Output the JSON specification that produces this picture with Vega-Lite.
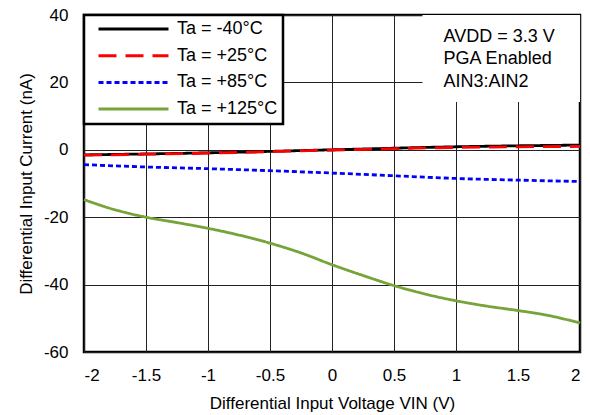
{
  "$schema": "https://vega.github.io/schema/vega-lite/v6.json",
  "width": 496,
  "height": 337,
  "autosize": {"type": "none"},
  "padding": {"left": 84, "top": 15, "right": 10, "bottom": 63},
  "background": "white",
  "config": {
    "font": "Liberation Sans",
    "view": {"stroke": "black", "strokeWidth": 2.5},
    "axis": {
      "grid": true, "gridColor": "#222", "gridWidth": 1, "gridOpacity": 1,
      "domain": false, "ticks": false,
      "labelFont": "Liberation Sans", "labelFontSize": 17, "labelColor": "black",
      "titleFont": "Liberation Sans", "titleFontSize": 17, "titleFontWeight": "normal", "titleColor": "black"
    },
    "legend": {"strokeWidth": 2.5}
  },
  "datasets": {
    "curves": [
      {"v": -2, "i": -1.5, "ta": "Ta = -40°C"},
      {"v": -1, "i": -0.9, "ta": "Ta = -40°C"},
      {"v": 0, "i": 0.0, "ta": "Ta = -40°C"},
      {"v": 1, "i": 0.9, "ta": "Ta = -40°C"},
      {"v": 2, "i": 1.4, "ta": "Ta = -40°C"},
      {"v": -2, "i": -1.6, "ta": "Ta = +25°C"},
      {"v": -1, "i": -1.0, "ta": "Ta = +25°C"},
      {"v": 0, "i": -0.1, "ta": "Ta = +25°C"},
      {"v": 1, "i": 0.7, "ta": "Ta = +25°C"},
      {"v": 2, "i": 1.0, "ta": "Ta = +25°C"},
      {"v": -2, "i": -4.4, "ta": "Ta = +85°C"},
      {"v": -1.5, "i": -5.1, "ta": "Ta = +85°C"},
      {"v": -1, "i": -5.6, "ta": "Ta = +85°C"},
      {"v": -0.5, "i": -6.2, "ta": "Ta = +85°C"},
      {"v": 0, "i": -6.9, "ta": "Ta = +85°C"},
      {"v": 0.5, "i": -7.7, "ta": "Ta = +85°C"},
      {"v": 1, "i": -8.5, "ta": "Ta = +85°C"},
      {"v": 1.5, "i": -9.0, "ta": "Ta = +85°C"},
      {"v": 2, "i": -9.4, "ta": "Ta = +85°C"},
      {"v": -2, "i": -14.8, "ta": "Ta = +125°C"},
      {"v": -1.75, "i": -17.8, "ta": "Ta = +125°C"},
      {"v": -1.5, "i": -20.0, "ta": "Ta = +125°C"},
      {"v": -1.25, "i": -21.6, "ta": "Ta = +125°C"},
      {"v": -1, "i": -23.3, "ta": "Ta = +125°C"},
      {"v": -0.75, "i": -25.3, "ta": "Ta = +125°C"},
      {"v": -0.5, "i": -27.7, "ta": "Ta = +125°C"},
      {"v": -0.25, "i": -30.6, "ta": "Ta = +125°C"},
      {"v": 0, "i": -34.1, "ta": "Ta = +125°C"},
      {"v": 0.25, "i": -37.3, "ta": "Ta = +125°C"},
      {"v": 0.5, "i": -40.3, "ta": "Ta = +125°C"},
      {"v": 0.75, "i": -42.8, "ta": "Ta = +125°C"},
      {"v": 1, "i": -44.8, "ta": "Ta = +125°C"},
      {"v": 1.25, "i": -46.4, "ta": "Ta = +125°C"},
      {"v": 1.5, "i": -47.7, "ta": "Ta = +125°C"},
      {"v": 1.75, "i": -49.2, "ta": "Ta = +125°C"},
      {"v": 2, "i": -51.4, "ta": "Ta = +125°C"}
    ]
  },
  "layer": [
    {
      "data": {"values": [{"x1": 0.73, "x2": 2, "y1": 14.2, "y2": 40}]},
      "mark": {"type": "rect", "fill": "white"},
      "encoding": {
        "x": {"field": "x1", "type": "quantitative"},
        "x2": {"field": "x2"},
        "y": {"field": "y1", "type": "quantitative"},
        "y2": {"field": "y2"}
      }
    },
    {
      "data": {"name": "curves"},
      "mark": {"type": "line", "strokeWidth": 2.8, "interpolate": "monotone"},
      "encoding": {
        "x": {
          "field": "v", "type": "quantitative",
          "scale": {"domain": [-2, 2], "nice": false, "zero": false},
          "axis": {"values": [-2, -1.5, -1, -0.5, 0, 0.5, 1, 1.5, 2], "labelExpr": "'' + datum.value", "labelPadding": 15, "title": "Differential  Input Voltage VIN (V)", "titlePadding": 12}
        },
        "y": {
          "field": "i", "type": "quantitative",
          "scale": {"domain": [-60, 40], "nice": false},
          "axis": {"values": [-60, -40, -20, 0, 20, 40], "labelExpr": "'' + datum.value", "labelPadding": 16, "title": "Differential Input Current (nA)", "titlePadding": 8}
        },
        "color": {
          "field": "ta", "type": "nominal",
          "scale": {"domain": ["Ta = -40°C", "Ta = +25°C", "Ta = +85°C", "Ta = +125°C"], "range": ["#000000", "#FF0000", "#0000FF", "#76A33A"]},
          "legend": {
            "title": null, "orient": "top-left", "offset": 0,
            "strokeColor": "black", "fillColor": "white", "padding": 5,
            "symbolType": "stroke", "symbolSize": 4900, "symbolStrokeWidth": 3,
            "clipHeight": 18, "rowPadding": 8.7, "symbolOffset": 8,
            "labelFontSize": 18, "labelFont": "Liberation Sans", "labelColor": "black", "labelOffset": 7
          }
        },
        "strokeDash": {
          "field": "ta", "type": "nominal",
          "scale": {"domain": ["Ta = -40°C", "Ta = +25°C", "Ta = +85°C", "Ta = +125°C"], "range": [[1, 0], [18, 9], [5, 3], [1, 0]]},
          "legend": null
        }
      }
    },
    {
      "data": {"values": [{"x": 0.9, "y": 33.5, "t": ["AVDD = 3.3 V", "PGA Enabled", "AIN3:AIN2"]}]},
      "mark": {"type": "text", "align": "left", "baseline": "middle", "fontSize": 18, "lineHeight": 22.5, "font": "Liberation Sans", "color": "black"},
      "encoding": {
        "x": {"field": "x", "type": "quantitative"},
        "y": {"field": "y", "type": "quantitative"},
        "text": {"field": "t"}
      }
    }
  ]
}
